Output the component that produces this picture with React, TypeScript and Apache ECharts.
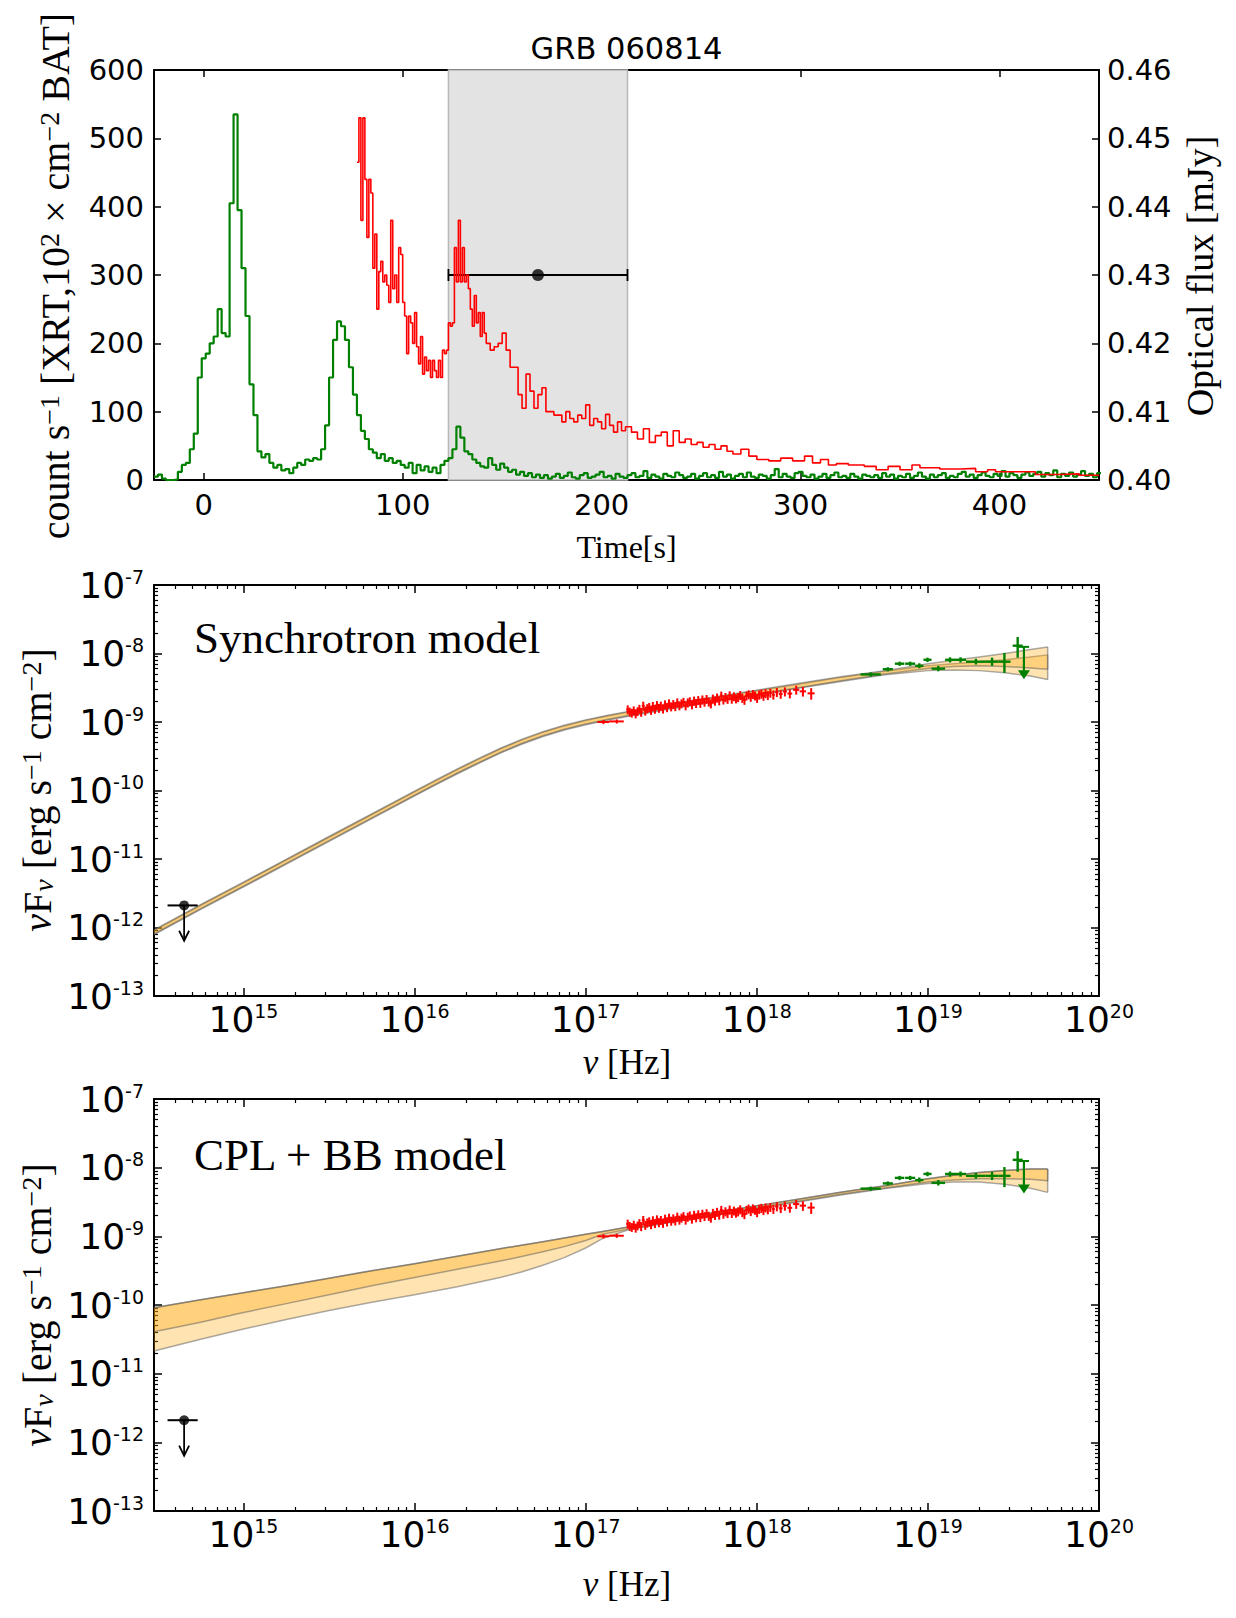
import { useEffect, useRef } from 'react';
import * as echarts from 'echarts';

// ---------------- Light curve (top panel) ----------------
// BAT count rate, 2 s bins starting at t = -25 s
const batStart = -25;
const batBin = 2;
const batRate = [
  5, 8, 2, 0, 0, 1, 12, 22, 25, 45,
  68, 150, 178, 185, 200, 210, 250, 215, 210, 405,
  535, 395, 310, 240, 140, 95, 42, 33, 38, 25,
  18, 22, 14, 16, 10, 18, 25, 22, 30, 28,
  32, 30, 45, 80, 150, 205, 232, 225, 205, 165,
  125, 95, 72, 60, 45, 40, 32, 38, 28, 32,
  25, 28, 22, 18, 25, 10, 22, 14, 20, 12,
  18, 10, 22, 28, 32, 45, 78, 62, 42, 38,
  30, 25, 20, 18, 32, 22, 15, 24, 18, 12,
  15, 8, 12, 6, 10, 4, 8, 3, 7, 2,
  5, 9, 3, 6, 11, 4, 2, 7, 10, 3,
  5, 8, 12, 4, 6, 2, 9, 5, 3, 7,
  10, 4, 6, 13, 3, 8, 5, 2, 9, 6,
  4, 11, 7, 3, 5, 9, 2, 6, 10, 4,
  7, 3, 12, 5, 8, 2, 6, 9, 4, 11,
  5, 3, 8, 6, 2, 7, 16, 4, 9, 5,
  3, 10, 12, 6, 4, 8, 2, 5, 9, 3,
  7, 11, 4, 6, 3, 9, 5, 2, 8, 6,
  4, 7, 3, 10, 5, 8, 2, 6, 4, 9,
  3, 6, 11, 5, 2, 8, 4, 7, 10, 3,
  6, 4, 9, 12, 5, 8, 3, 7, 11, 6,
  4, 9, 6, 13, 5, 10, 7, 3, 8, 11,
  6, 9, 12, 5, 10, 7, 14, 4, 9, 6,
  11, 5, 8, 13, 6, 9, 4, 10,
];

// XRT count rate (x100): bin edges and rates
const xrtEdges = [
  77, 78, 79, 80, 81, 82, 83, 84, 85, 86, 87, 88, 89, 90, 91, 92, 93, 94, 95, 96,
  97, 98, 99, 100, 101, 102, 103, 104, 105, 106, 107, 108, 109, 110, 111, 112, 113, 114, 115, 116,
  117, 118, 119, 120, 121, 122, 123, 124, 125, 126, 127, 128, 129, 130, 131, 132, 133, 134, 135, 136,
  137, 138, 139, 140, 141, 142, 144, 146, 148, 150, 152, 154, 156, 158, 160, 162, 164, 166, 168, 170,
  172, 174, 176, 178, 180, 182, 184, 186, 188, 190, 192, 194, 196, 198, 200, 202, 204, 206, 208, 210,
  212, 215, 218, 221, 224, 227, 230, 233, 236, 239, 242, 245, 248, 251, 254, 257, 260, 263, 266, 270,
  274, 278, 284, 290, 296, 302, 306, 310, 314, 318, 324, 332, 338, 344, 350, 356, 360, 370, 380, 388,
  394, 398, 410, 418, 430, 440, 450,
];
const xrtRate = [
  465, 530, 380, 530, 440, 355, 440, 420, 310, 360, 250, 305, 320, 290, 300, 285, 260, 380, 280, 300,
  260, 340, 330, 260, 240, 185, 240, 230, 200, 245, 195, 170, 210, 155, 180, 160, 175, 150, 175, 160,
  150, 175, 150, 190, 185, 190, 230, 225, 230, 340, 290, 380, 290, 340, 290, 300, 280, 250, 225, 270,
  230, 245, 210, 245, 215, 200, 190, 195, 200, 215, 190, 165, 165, 125, 105, 155, 130, 105, 125, 135,
  100, 100, 95, 95, 85, 100, 90, 85, 95, 90, 110, 80, 90, 85, 75, 96, 80, 70, 85, 72,
  78, 70, 60, 75, 55, 65, 70, 50, 72, 55, 60, 52, 55, 48, 52, 45, 50, 42, 38, 45,
  35, 30, 28, 32, 28, 35, 25, 30, 22, 24, 22, 20, 15, 20, 15, 22, 18, 16, 17, 12,
  15, 12, 12, 8, 9, 7,
];

// Optical (UVOT) flux, averaged over the shaded interval
const opticalTime = 168;
const opticalSpan = [123, 213];
const opticalFlux = 0.43;
const timeTicks = [0, 100, 200, 300, 400];
const countMax = 600;

// ---------------- Spectra (middle and bottom panels) ----------------
const nuMin = 3e14;
const nuDecades = [15, 16, 17, 18, 19, 20];

// XRT spectrum: [nu (1e17 Hz), nuFnu (1e-9 erg/s/cm2), half bin width, flux error]
const xrtSpec = [
  [1.27, 1.0, 0.1, 0.07], [1.52, 1.02, 0.15, 0.07],
  [1.76, 1.52, 0.035, 0.23], [1.81, 1.41, 0.036, 0.21], [1.86, 1.36, 0.037, 0.2], [1.91, 1.47, 0.038, 0.22],
  [1.96, 1.33, 0.039, 0.2], [2.01, 1.43, 0.04, 0.21], [2.06, 1.55, 0.041, 0.23], [2.11, 1.4, 0.042, 0.21],
  [2.17, 1.72, 0.043, 0.26], [2.23, 1.46, 0.045, 0.22], [2.29, 1.58, 0.046, 0.24], [2.35, 1.64, 0.047, 0.25],
  [2.41, 1.5, 0.048, 0.23], [2.47, 1.7, 0.049, 0.26], [2.54, 1.55, 0.051, 0.23], [2.61, 1.76, 0.052, 0.26],
  [2.68, 1.6, 0.054, 0.24], [2.75, 1.72, 0.055, 0.26], [2.83, 1.57, 0.057, 0.24], [2.91, 1.8, 0.058, 0.27],
  [2.99, 1.64, 0.06, 0.25], [3.07, 1.86, 0.061, 0.28], [3.16, 1.68, 0.063, 0.25], [3.25, 1.82, 0.065, 0.27],
  [3.34, 1.7, 0.067, 0.26], [3.43, 1.92, 0.069, 0.29], [3.53, 1.74, 0.071, 0.26], [3.63, 1.86, 0.073, 0.28],
  [3.73, 1.96, 0.075, 0.29], [3.84, 1.74, 0.077, 0.26], [3.95, 1.92, 0.079, 0.29], [4.06, 2.0, 0.081, 0.3],
  [4.18, 1.8, 0.084, 0.27], [4.3, 2.04, 0.086, 0.31], [4.42, 1.88, 0.088, 0.28], [4.55, 2.08, 0.091, 0.31],
  [4.68, 1.9, 0.094, 0.29], [4.81, 2.12, 0.096, 0.32], [4.95, 1.96, 0.099, 0.29], [5.09, 2.16, 0.1, 0.32],
  [5.24, 1.98, 0.1, 0.3], [5.39, 1.86, 0.11, 0.28], [5.54, 2.18, 0.11, 0.33], [5.7, 2.04, 0.11, 0.31],
  [5.86, 2.26, 0.12, 0.34], [6.03, 2.06, 0.12, 0.31], [6.2, 2.42, 0.12, 0.36], [6.38, 2.12, 0.13, 0.32],
  [6.56, 2.3, 0.13, 0.35], [6.75, 2.16, 0.14, 0.32], [6.94, 2.44, 0.14, 0.37], [7.14, 2.18, 0.14, 0.33],
  [7.35, 2.36, 0.15, 0.35], [7.56, 2.2, 0.15, 0.33], [7.78, 2.3, 0.16, 0.35], [8.0, 2.46, 0.16, 0.37],
  [8.23, 2.24, 0.16, 0.34], [8.47, 2.1, 0.17, 0.32], [8.71, 2.42, 0.17, 0.36], [8.96, 2.52, 0.18, 0.38],
  [9.22, 2.32, 0.18, 0.35], [9.49, 2.54, 0.19, 0.38], [9.76, 2.42, 0.2, 0.36], [10.04, 2.24, 0.2, 0.34],
  [10.33, 2.5, 0.21, 0.38], [10.63, 2.58, 0.21, 0.39], [10.94, 2.4, 0.22, 0.36], [11.25, 2.62, 0.23, 0.39],
  [11.6, 2.46, 0.23, 0.37], [12.0, 2.66, 0.24, 0.4], [12.5, 2.5, 0.25, 0.38], [13.1, 2.72, 0.3, 0.41],
  [13.8, 2.56, 0.35, 0.38], [14.6, 2.78, 0.4, 0.42], [15.6, 2.6, 0.5, 0.39], [17.0, 2.95, 0.7, 0.44],
  [18.6, 2.8, 0.8, 0.45], [20.8, 2.62, 1.0, 0.5],
];

// BAT spectrum: [nu low, nu high (1e18 Hz), nuFnu, low, high (1e-9)]
const batSpec = [
  [4.04, 5.31, 4.95, 4.6, 5.3], [5.45, 6.24, 5.9, 5.5, 6.3], [6.41, 7.28, 7.1, 6.6, 7.6],
  [7.36, 8.43, 7.1, 6.6, 7.6], [8.43, 9.42, 6.6, 6.1, 7.2], [9.42, 10.5, 8.1, 7.5, 8.7],
  [10.5, 12.6, 6.0, 5.5, 6.6], [12.6, 14.4, 8.1, 7.4, 8.8], [14.4, 16.7, 8.1, 7.4, 8.8],
  [16.7, 21.8, 7.6, 6.9, 8.4], [21.8, 25.8, 7.6, 6.6, 8.7], [25.8, 30.4, 7.6, 5.2, 10.2],
  [31.3, 35.8, 13.0, 8.7, 17.4],
];
// BAT upper limit: nu range (1e18 Hz); flux and arrow tip (1e-9)
const batLimitNu = [34.0, 39.0];
const batLimitFlux = [12.5, 4.2];
// Optical upper limit: nu low, centre, high (Hz); flux and arrow tip
const optLimitNu = [3.6e14, 4.5e14, 5.4e14];
const optLimitFlux = [2.1e-12, 6.4e-13];

// Synchrotron model: log10(nu) nodes, two confidence bands in log10(nuFnu)
const synLogNu = [14.477, 14.75, 15, 15.25, 15.5, 15.75, 16, 16.125, 16.25, 16.375, 16.5, 16.625, 16.75, 16.875, 17, 17.125, 17.25, 17.375, 17.5, 17.75, 18, 18.25, 18.5, 18.75, 19, 19.15, 19.3, 19.45, 19.6, 19.7];
const synBand1Lo = [-12.095, -11.725, -11.398, -11.065, -10.732, -10.4, -10.069, -9.905, -9.745, -9.592, -9.445, -9.314, -9.201, -9.107, -9.029, -8.964, -8.905, -8.85, -8.795, -8.695, -8.595, -8.495, -8.395, -8.3, -8.22, -8.19, -8.18, -8.19, -8.21, -8.23];
const synBand1Hi = [-12.035, -11.665, -11.338, -11.005, -10.672, -10.34, -10.009, -9.845, -9.685, -9.532, -9.385, -9.254, -9.141, -9.047, -8.969, -8.904, -8.845, -8.79, -8.735, -8.635, -8.535, -8.435, -8.335, -8.25, -8.15, -8.1, -8.05, -8.0, -7.94, -7.905];
const synBand2Lo = [-12.105, -11.735, -11.408, -11.075, -10.742, -10.41, -10.079, -9.915, -9.755, -9.602, -9.455, -9.324, -9.211, -9.117, -9.039, -8.974, -8.915, -8.86, -8.805, -8.705, -8.605, -8.505, -8.405, -8.31, -8.25, -8.24, -8.25, -8.28, -8.33, -8.38];
const synBand2Hi = [-12.045, -11.675, -11.348, -11.015, -10.682, -10.35, -10.019, -9.855, -9.695, -9.542, -9.395, -9.264, -9.151, -9.057, -8.979, -8.914, -8.855, -8.8, -8.745, -8.645, -8.545, -8.445, -8.345, -8.26, -8.18, -8.15, -8.12, -8.09, -8.05, -8.02];

// CPL + BB model
const cplLogNu = [14.477, 14.75, 15, 15.25, 15.5, 15.75, 16, 16.25, 16.5, 16.625, 16.75, 16.875, 17, 17.1, 17.25, 17.5, 17.75, 18, 18.25, 18.5, 18.75, 19, 19.15, 19.3, 19.45, 19.6, 19.7];
const cplTop = [-10.04, -9.925, -9.82, -9.72, -9.61, -9.5, -9.4, -9.29, -9.18, -9.13, -9.08, -9.025, -8.97, -8.93, -8.865, -8.755, -8.655, -8.555, -8.455, -8.355, -8.265, -8.16, -8.11, -8.07, -8.04, -8.02, -8.02];
const cplMid = [-10.39, -10.25, -10.11, -9.98, -9.85, -9.72, -9.6, -9.48, -9.36, -9.295, -9.225, -9.15, -9.06, -8.97, -8.895, -8.785, -8.685, -8.585, -8.485, -8.385, -8.295, -8.21, -8.18, -8.16, -8.16, -8.17, -8.19];
const cplLow = [-10.67, -10.5, -10.35, -10.21, -10.08, -9.96, -9.85, -9.735, -9.6, -9.52, -9.42, -9.31, -9.17, -9.03, -8.905, -8.795, -8.695, -8.595, -8.495, -8.395, -8.305, -8.23, -8.21, -8.21, -8.24, -8.3, -8.36];

// ---------------- helpers ----------------
const SANS = 'DejaVu Sans';
const SERIF = 'Liberation Serif';
const L = Math.log10;
const xLogMin = L(nuMin);

function minorLogTicks(from: number, to: number, lo: number, hi: number) {
  const out: number[] = [];
  for (let d = from; d < to; d++) {
    for (let k = 2; k <= 9; k++) {
      const v = d + L(k);
      if (v > lo + 1e-6 && v < hi - 1e-6) out.push(v);
    }
  }
  return out;
}
const minorX = minorLogTicks(14, 20, xLogMin, 20);
const minorY = minorLogTicks(-13, -7, -13, -7);

const axisLine = { show: true, onZero: false, lineStyle: { color: '#000', width: 2 } };
const noLabel = { show: false };
const powLabel = (v: number) => `{b|10}{s|${Math.round(v)}}`;
const powRich = {
  b: { fontSize: 36, fontFamily: SANS, color: '#000', lineHeight: 36, verticalAlign: 'middle' },
  s: { fontSize: 19, fontFamily: SANS, color: '#000', lineHeight: 16, verticalAlign: 'top' },
};

function spectralAxes(grid: number) {
  const xBase = { type: 'value', gridIndex: grid, min: xLogMin, max: 20, splitLine: { show: false } };
  const yBase = { type: 'value', gridIndex: grid, min: -13, max: -7, interval: 1, splitLine: { show: false } };
  const major = { inside: true, length: 8, lineStyle: { color: '#000', width: 1.5 } };
  const minor = { inside: true, length: 4, lineStyle: { color: '#000', width: 1.2 } };
  const xAxes = [
    { ...xBase, position: 'bottom', axisLine, axisTick: { ...major, customValues: nuDecades },
      axisLabel: { customValues: nuDecades, formatter: powLabel, rich: powRich, margin: 5 } },
    { ...xBase, position: 'bottom', axisLine: { show: false }, axisTick: { ...minor, customValues: minorX }, axisLabel: noLabel },
    { ...xBase, position: 'top', axisLine, axisTick: { ...major, customValues: nuDecades }, axisLabel: noLabel },
    { ...xBase, position: 'top', axisLine: { show: false }, axisTick: { ...minor, customValues: minorX }, axisLabel: noLabel },
  ];
  const yAxes = [
    { ...yBase, position: 'left', axisLine, axisTick: major,
      axisLabel: { formatter: powLabel, rich: powRich, margin: 10 } },
    { ...yBase, position: 'left', axisLine: { show: false }, axisTick: { ...minor, customValues: minorY }, axisLabel: noLabel },
    { ...yBase, position: 'right', axisLine, axisTick: major, axisLabel: noLabel },
    { ...yBase, position: 'right', axisLine: { show: false }, axisTick: { ...minor, customValues: minorY }, axisLabel: noLabel },
  ];
  return { xAxes, yAxes };
}

const bandFill = 'rgba(255,165,0,0.30)';
const bandEdge = 'rgba(90,90,90,0.5)';

function bandSeries(nodes: number[], lo: number[], hi: number[], xi: number, yi: number) {
  return {
    type: 'custom', xAxisIndex: xi, yAxisIndex: yi, silent: true,
    data: [[nodes[0], lo[0]]],
    renderItem: (_p: any, api: any) => {
      const up = nodes.map((x, i) => api.coord([x, hi[i]]));
      const dn = nodes.map((x, i) => api.coord([x, lo[i]]));
      const e = nodes.length - 1;
      return {
        type: 'group',
        children: [
          { type: 'polygon', shape: { points: up.concat(dn.slice().reverse()) }, style: { fill: bandFill } },
          { type: 'polyline', shape: { points: up }, style: { stroke: bandEdge, lineWidth: 1.5, fill: null } },
          { type: 'polyline', shape: { points: dn }, style: { stroke: bandEdge, lineWidth: 1.5, fill: null } },
          { type: 'line', shape: { x1: up[e][0], y1: up[e][1], x2: dn[e][0], y2: dn[e][1] }, style: { stroke: bandEdge, lineWidth: 1.5 } },
        ],
      };
    },
  };
}

// items: [x, y, xlo, xhi, ylo, yhi] in log space
function crossSeries(items: number[][], xi: number, yi: number, color: string, lw: number) {
  return {
    type: 'custom', xAxisIndex: xi, yAxisIndex: yi, silent: true,
    data: items,
    encode: { x: 0, y: 1 },
    renderItem: (_p: any, api: any) => {
      const x = api.value(0), y = api.value(1);
      const p = api.coord([x, y]);
      const a = api.coord([api.value(2), y]);
      const b = api.coord([api.value(3), y]);
      const c = api.coord([x, api.value(4)]);
      const d = api.coord([x, api.value(5)]);
      return {
        type: 'group',
        children: [
          { type: 'line', shape: { x1: a[0], y1: p[1], x2: b[0], y2: p[1] }, style: { stroke: color, lineWidth: lw } },
          { type: 'line', shape: { x1: p[0], y1: c[1], x2: p[0], y2: d[1] }, style: { stroke: color, lineWidth: lw } },
        ],
      };
    },
  };
}

// upper limit: [x, y, xlo, xhi, yTip]
function limitSeries(item: number[], xi: number, yi: number, color: string, filled: boolean) {
  return {
    type: 'custom', xAxisIndex: xi, yAxisIndex: yi, silent: true,
    data: [item],
    encode: { x: 0, y: 1 },
    renderItem: (_p: any, api: any) => {
      const x = api.value(0), y = api.value(1);
      const p = api.coord([x, y]);
      const a = api.coord([api.value(2), y]);
      const b = api.coord([api.value(3), y]);
      const t = api.coord([x, api.value(4)]);
      const children: any[] = [
        { type: 'line', shape: { x1: a[0], y1: p[1], x2: b[0], y2: p[1] }, style: { stroke: color, lineWidth: 2 } },
      ];
      if (filled) {
        children.push({ type: 'line', shape: { x1: p[0], y1: p[1], x2: p[0], y2: t[1] - 8 }, style: { stroke: color, lineWidth: 2.2 } });
        children.push({ type: 'polygon', shape: { points: [[p[0] - 6, t[1] - 9], [p[0] + 6, t[1] - 9], [p[0], t[1]]] }, style: { fill: color } });
      } else {
        children.push({ type: 'line', shape: { x1: p[0], y1: p[1], x2: p[0], y2: t[1] }, style: { stroke: color, lineWidth: 1.8 } });
        children.push({ type: 'polyline', shape: { points: [[p[0] - 5, t[1] - 10], [p[0], t[1]], [p[0] + 5, t[1] - 10]] }, style: { stroke: color, lineWidth: 1.8, fill: null } });
      }
      return { type: 'group', children };
    },
  };
}

function spectralSeries(xi: number, yi: number, bands: any[]) {
  const xrtItems = xrtSpec.map(([nu, f, dn, df]) => [
    L(nu * 1e17), L(f * 1e-9), L((nu - dn) * 1e17), L((nu + dn) * 1e17), L((f - df) * 1e-9), L((f + df) * 1e-9),
  ]);
  const batItems = batSpec.map(([lo, hi, f, flo, fhi]) => [
    (L(lo * 1e18) + L(hi * 1e18)) / 2, L(f * 1e-9), L(lo * 1e18), L(hi * 1e18), L(flo * 1e-9), L(fhi * 1e-9),
  ]);
  const batLim = [
    (L(batLimitNu[0] * 1e18) + L(batLimitNu[1] * 1e18)) / 2, L(batLimitFlux[0] * 1e-9),
    L(batLimitNu[0] * 1e18), L(batLimitNu[1] * 1e18), L(batLimitFlux[1] * 1e-9),
  ];
  const optLim = [L(optLimitNu[1]), L(optLimitFlux[0]), L(optLimitNu[0]), L(optLimitNu[2]), L(optLimitFlux[1])];
  return [
    ...bands,
    crossSeries(xrtItems, xi, yi, '#ff0000', 2),
    crossSeries(batItems, xi, yi, '#008000', 2.4),
    limitSeries(batLim, xi, yi, '#008000', true),
    limitSeries(optLim, xi, yi, '#000000', false),
    {
      type: 'scatter', xAxisIndex: xi, yAxisIndex: yi, silent: true, symbol: 'circle', symbolSize: 10,
      itemStyle: { color: '#000' }, data: [[optLim[0], optLim[1]]],
    },
  ];
}

function serifRich(size: number) {
  const sup = Math.round(size * 0.7);
  return {
    m: { fontFamily: SERIF, fontSize: size, lineHeight: size, verticalAlign: 'middle', color: '#000' },
    i: { fontFamily: SERIF, fontSize: size, lineHeight: size, verticalAlign: 'middle', fontStyle: 'italic', color: '#000' },
    s: { fontFamily: SERIF, fontSize: sup, lineHeight: Math.round(size * 0.5), verticalAlign: 'top', color: '#000' },
    sub: { fontFamily: SERIF, fontSize: sup, lineHeight: Math.round(size * 0.45), verticalAlign: 'bottom', fontStyle: 'italic', color: '#000' },
  };
}

function text(x: number, y: number, str: string, size: number, rotate = false, align = 'center') {
  return {
    type: 'text', x, y, rotation: rotate ? Math.PI / 2 : 0, silent: true,
    style: {
      text: str, rich: serifRich(size), fill: '#000', fontFamily: SERIF, fontSize: size,
      align, textAlign: align, verticalAlign: 'middle', textVerticalAlign: 'middle',
    },
  };
}

function buildOption() {
  const mid = spectralAxes(1);
  const bot = spectralAxes(2);

  const topMajor = { inside: true, length: 7, lineStyle: { color: '#000', width: 1.5 } };
  const topLabel = { fontSize: 29, fontFamily: SANS, color: '#000' };

  const xAxis = [
    { type: 'value', gridIndex: 0, min: -25, max: 450, position: 'bottom', axisLine, splitLine: { show: false },
      axisTick: { ...topMajor, customValues: timeTicks }, axisLabel: { ...topLabel, customValues: timeTicks, margin: 10 } },
    { type: 'value', gridIndex: 0, min: -25, max: 450, position: 'top', axisLine, splitLine: { show: false },
      axisTick: { ...topMajor, customValues: timeTicks }, axisLabel: noLabel },
    ...mid.xAxes,
    ...bot.xAxes,
  ];
  const yAxis = [
    { type: 'value', gridIndex: 0, min: 0, max: countMax, interval: 100, position: 'left', axisLine, splitLine: { show: false },
      axisTick: topMajor, axisLabel: { ...topLabel, margin: 10 } },
    { type: 'value', gridIndex: 0, min: 0.4, max: 0.46, interval: 0.01, position: 'right', axisLine, splitLine: { show: false },
      axisTick: topMajor, axisLabel: { ...topLabel, margin: 8, formatter: (v: number) => v.toFixed(2) } },
    ...mid.yAxes,
    ...bot.yAxes,
  ];

  const batLine = batRate.map((v, i) => [batStart + i * batBin, v]);
  batLine.push([batStart + batRate.length * batBin, batRate[batRate.length - 1]]);
  const xrtLine = xrtEdges.map((t, i) => [t, xrtRate[Math.min(i, xrtRate.length - 1)]]);

  const topSeries = [
    {
      type: 'custom', xAxisIndex: 0, yAxisIndex: 0, silent: true,
      data: [[opticalSpan[0], opticalSpan[1]]],
      renderItem: (_p: any, api: any) => {
        const a = api.coord([api.value(0), countMax]);
        const b = api.coord([api.value(1), 0]);
        return {
          type: 'rect', shape: { x: a[0], y: a[1], width: b[0] - a[0], height: b[1] - a[1] },
          style: { fill: '#e3e3e3', stroke: '#b8b8b8', lineWidth: 1.5 },
        };
      },
    },
    {
      type: 'line', xAxisIndex: 0, yAxisIndex: 0, step: 'end', symbol: 'none', silent: true,
      lineStyle: { color: '#008000', width: 2.2 }, data: batLine,
    },
    {
      type: 'line', xAxisIndex: 0, yAxisIndex: 0, step: 'end', symbol: 'none', silent: true,
      lineStyle: { color: '#ff0000', width: 1.6 }, data: xrtLine,
    },
    {
      type: 'custom', xAxisIndex: 0, yAxisIndex: 1, silent: true,
      data: [[opticalTime, opticalFlux, opticalSpan[0], opticalSpan[1]]],
      encode: { x: 0, y: 1 },
      renderItem: (_p: any, api: any) => {
        const a = api.coord([api.value(2), api.value(1)]);
        const b = api.coord([api.value(3), api.value(1)]);
        return {
          type: 'group',
          children: [
            { type: 'line', shape: { x1: a[0], y1: a[1], x2: b[0], y2: b[1] }, style: { stroke: '#000', lineWidth: 1.8 } },
            { type: 'line', shape: { x1: a[0], y1: a[1] - 6, x2: a[0], y2: a[1] + 6 }, style: { stroke: '#000', lineWidth: 1.8 } },
            { type: 'line', shape: { x1: b[0], y1: b[1] - 6, x2: b[0], y2: b[1] + 6 }, style: { stroke: '#000', lineWidth: 1.8 } },
          ],
        };
      },
    },
    {
      type: 'scatter', xAxisIndex: 0, yAxisIndex: 1, silent: true, symbol: 'circle', symbolSize: 12,
      itemStyle: { color: '#000' }, data: [[opticalTime, opticalFlux]],
    },
  ];

  const synBands = [
    bandSeries(synLogNu, synBand2Lo, synBand2Hi, 2, 2),
    bandSeries(synLogNu, synBand1Lo, synBand1Hi, 2, 2),
  ];
  const cplBands = [
    bandSeries(cplLogNu, cplLow, cplTop, 6, 6),
    bandSeries(cplLogNu, cplMid, cplTop, 6, 6),
  ];

  const nuFnuLabel = '{i|ν}{m|F}{sub|ν}{m| [erg s}{s|−1}{m| cm}{s|−2}{m|]}';
  const graphic = [
    { type: 'text', x: 626.5, y: 48, silent: true,
      style: { text: 'GRB 060814', fill: '#000', fontFamily: SANS, fontSize: 30.5, align: 'center', textAlign: 'center', verticalAlign: 'middle', textVerticalAlign: 'middle' } },
    text(55, 276, '{m|count s}{s|−1}{m| [XRT,10}{s|2}{m| × cm}{s|−2}{m| BAT]}', 40, true),
    text(1200, 276, '{m|Optical flux [mJy]}', 38, true),
    text(626.5, 547, '{m|Time[s]}', 32),
    text(194, 638, '{m|Synchrotron model}', 45, false, 'left'),
    text(37, 790, nuFnuLabel, 40, true),
    text(627, 1062, '{i|ν}{m| [Hz]}', 35),
    text(194, 1155, '{m|CPL + BB model}', 45, false, 'left'),
    text(37, 1305, nuFnuLabel, 40, true),
    text(627, 1584, '{i|ν}{m| [Hz]}', 35),
  ];

  return {
    animation: false,
    backgroundColor: '#ffffff',
    grid: [
      { left: 154, top: 70, width: 945, height: 410, outerBoundsMode: 'none' },
      { left: 154, top: 585, width: 945, height: 411, outerBoundsMode: 'none' },
      { left: 154, top: 1099, width: 945, height: 412, outerBoundsMode: 'none' },
    ],
    xAxis,
    yAxis,
    series: [
      ...topSeries,
      ...spectralSeries(2, 2, synBands),
      ...spectralSeries(6, 6, cplBands),
    ],
    graphic,
  };
}

export default function App() {
  const ref = useRef<HTMLDivElement>(null);
  useEffect(() => {
    const chart = echarts.init(ref.current!, null, { renderer: 'svg' });
    chart.setOption(buildOption() as any);
    return () => chart.dispose();
  }, []);
  return (
    <div
      ref={ref}
      style={{ position: 'absolute', left: 0, top: 0, width: 1236, height: 1618, background: '#fff' }}
    />
  );
}
